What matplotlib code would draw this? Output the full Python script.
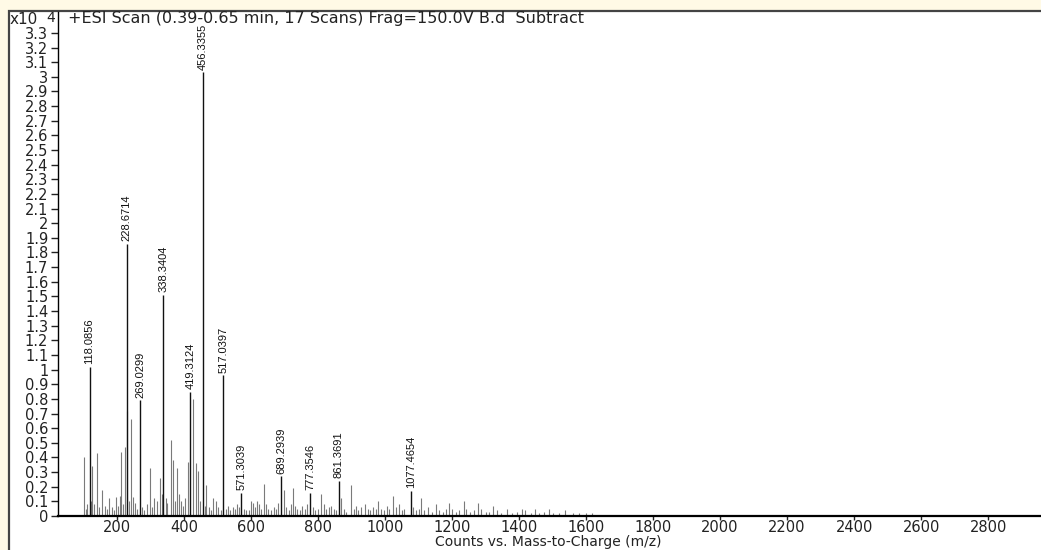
import numpy as np
import matplotlib
matplotlib.use('Agg')
import matplotlib.pyplot as plt
from matplotlib.patches import Rectangle

# labelled peaks (m/z, counts x10^4)
peak_mz = [118.0856, 228.6714, 269.0299, 338.3404, 419.3124, 456.3355,
           517.0397, 571.3039, 689.2939, 777.3546, 861.3691, 1077.4654]
peak_int = [1.02, 1.86, 0.79, 1.51, 0.85, 3.03,
            0.96, 0.16, 0.27, 0.16, 0.24, 0.17]
peak_labels = ['118.0856', '228.6714', '269.0299', '338.3404', '419.3124', '456.3355',
               '517.0397', '571.3039', '689.2939', '777.3546', '861.3691', '1077.4654']

# unlabelled peaks
minor_mz = [103, 108, 112, 122, 126, 132, 141, 147, 156, 163, 170, 177, 184, 190, 196,
            203, 208, 213, 218, 223, 231, 236, 241, 248, 255, 260, 275, 282, 289, 299,
            305, 311, 318, 327, 333, 345, 350, 360, 367, 373, 379, 386, 392, 398, 404,
            412, 427, 436, 442, 449, 462, 467, 474, 481, 488, 497, 503, 510, 524, 531,
            538, 545, 552, 559, 565, 578, 585, 593, 600, 606, 613, 619, 625, 631, 638,
            645, 652, 660, 668, 675, 681, 699, 705, 712, 718, 724, 731, 738, 745, 752,
            760, 768, 785, 792, 800, 810, 817, 825, 832, 840, 848, 855, 870, 878, 885,
            899, 906, 913, 920, 928, 940, 948, 955, 963, 972, 980, 988, 997, 1005, 1012,
            1024, 1032, 1041, 1050, 1058, 1083, 1092, 1100, 1108, 1116, 1128, 1140, 1151, 1160, 1172,
            1182, 1192, 1200, 1212, 1222, 1235, 1242, 1255, 1265, 1279, 1287, 1300, 1310, 1322, 1333,
            1345, 1365, 1380, 1395, 1408, 1418, 1435, 1448, 1460, 1475, 1488, 1500, 1520, 1538, 1560,
            1580, 1600, 1619]
minor_int = [0.40, 0.05, 0.08, 0.10, 0.34, 0.08, 0.43, 0.06, 0.18, 0.07, 0.05, 0.12, 0.06, 0.04, 0.13,
             0.07, 0.14, 0.44, 0.08, 0.47, 0.72, 0.10, 0.66, 0.13, 0.09, 0.05, 0.06, 0.04, 0.08, 0.33,
             0.06, 0.12, 0.10, 0.26, 0.15, 0.12, 0.09, 0.52, 0.38, 0.10, 0.33, 0.15, 0.10, 0.07, 0.12,
             0.37, 0.80, 0.36, 0.31, 0.10, 0.07, 0.21, 0.06, 0.04, 0.12, 0.10, 0.06, 0.04, 0.05, 0.07,
             0.04, 0.06, 0.05, 0.08, 0.06, 0.05, 0.04, 0.04, 0.10, 0.09, 0.06, 0.10, 0.08, 0.05, 0.22,
             0.08, 0.05, 0.04, 0.06, 0.05, 0.09, 0.18, 0.06, 0.04, 0.08, 0.19, 0.07, 0.05, 0.04, 0.07,
             0.05, 0.08, 0.06, 0.04, 0.05, 0.15, 0.08, 0.05, 0.06, 0.07, 0.05, 0.04, 0.12, 0.05, 0.03,
             0.21, 0.05, 0.07, 0.04, 0.06, 0.08, 0.05, 0.04, 0.06, 0.05, 0.10, 0.05, 0.04, 0.07, 0.05,
             0.14, 0.06, 0.08, 0.04, 0.05, 0.06, 0.04, 0.05, 0.12, 0.04, 0.06, 0.03, 0.08, 0.04, 0.03,
             0.05, 0.09, 0.05, 0.03, 0.04, 0.10, 0.05, 0.03, 0.04, 0.09, 0.05, 0.03, 0.03, 0.07, 0.04,
             0.02, 0.05, 0.02, 0.03, 0.05, 0.04, 0.02, 0.05, 0.02, 0.03, 0.05, 0.02, 0.02, 0.04, 0.02,
             0.02, 0.02, 0.02]

x_ticks = [200, 400, 600, 800, 1000, 1200, 1400, 1600, 1800, 2000, 2200, 2400, 2600, 2800]
y_ticks = [0, 0.1, 0.2, 0.3, 0.4, 0.5, 0.6, 0.7, 0.8, 0.9, 1, 1.1, 1.2, 1.3, 1.4, 1.5, 1.6,
           1.7, 1.8, 1.9, 2, 2.1, 2.2, 2.3, 2.4, 2.5, 2.6, 2.7, 2.8, 2.9, 3, 3.1, 3.2, 3.3]

title = '+ESI Scan (0.39-0.65 min, 17 Scans) Frag=150.0V B.d  Subtract'
xlabel = 'Counts vs. Mass-to-Charge (m/z)'

W, H = 1041, 550
fig = plt.figure(figsize=(W / 100, H / 100), dpi=100)
fig.patch.set_facecolor('#fffae6')

# white page with frame on top and left
fig.add_artist(Rectangle((9 / W, -0.1), 1.2, 0.1 + (H - 11) / H, transform=fig.transFigure,
                         facecolor='white', edgecolor='#444444', lw=1.6, zorder=0))

ax = fig.add_axes([58 / W, 34 / H, (W - 58) / W + 0.01, (516 - 12) / H])
ax.patch.set_alpha(0)

ax.vlines(minor_mz, 0, minor_int, color='#7a7a7a', lw=0.8)
ax.vlines(peak_mz, 0, peak_int, color='#111111', lw=1.0)

for mz, h, lab in zip(peak_mz, peak_int, peak_labels):
    ax.annotate(lab, (mz, h), xytext=(0, 2), textcoords='offset points',
                rotation=90, ha='center', va='bottom', fontsize=8,
                family='Liberation Sans', color='#111111')

ax.set_xlim(24, 2989)
ax.set_ylim(0, 504 / 146.4)
ax.set_xticks(x_ticks)
ax.set_xticklabels([str(t) for t in x_ticks])
ax.set_yticks(y_ticks)
ax.set_yticklabels(['%g' % t for t in y_ticks])

for s in ['top', 'right']:
    ax.spines[s].set_visible(False)
ax.spines['left'].set_linewidth(1.0)
ax.spines['bottom'].set_linewidth(1.6)
ax.tick_params(axis='y', direction='out', length=5, width=1, pad=2, labelsize=10.5, colors='#222222')
ax.tick_params(axis='x', direction='out', length=3, width=1, pad=0, labelsize=10.5, colors='#222222')

fig.text(548 / W, 1 - 549 / H, xlabel, fontsize=10, va='bottom', ha='center', color='#222222')

fig.text(10 / W, 1 - 20 / H, 'x10', fontsize=11, va='center', ha='left', color='#222222')
fig.text(46 / W, 1 - 18 / H, '4', fontsize=10, va='center', ha='left', color='#222222')
fig.text(68 / W, 1 - 19 / H, title, fontsize=11.5, va='center', ha='left', color='#222222')

plt.savefig('out.png', dpi=100, facecolor=fig.get_facecolor())
